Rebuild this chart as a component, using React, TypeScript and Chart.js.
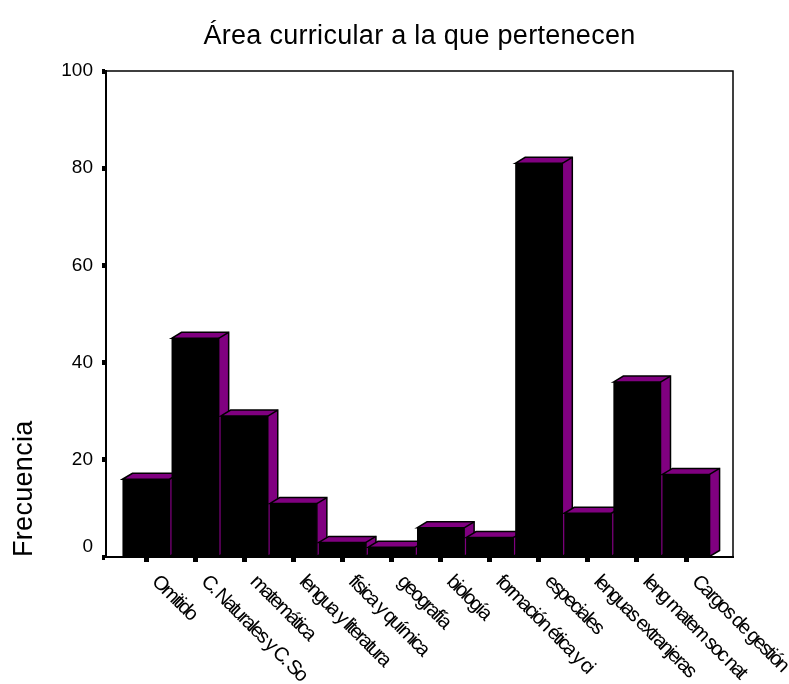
import React, { useEffect, useRef } from "react";
import { Chart, registerables } from "chart.js";

Chart.register(...registerables);

const chartTitle = "Área curricular a la que pertenecen";
const yAxisTitle = "Frecuencia";
const categories = [
  "Omitido",
  "C. Naturales y C. So",
  "matemática",
  "lengua y literatura",
  "física y química",
  "geografía",
  "biología",
  "formación ética y ci",
  "especiales",
  "lenguas extranjeras",
  "leng matem soc nat",
  "Cargos de gestión",
];
const frequencies = [16, 45, 29, 11, 3, 2, 6, 4, 81, 9, 36, 17];

const FONT = "'Liberation Sans', Arial, sans-serif";
const PURPLE = "#800080";
const DEPTH_X = 10;
const DEPTH_Y = 6;

const spaced = (chart: any, scale: any, spacing: string) => {
  const orig = scale.drawLabels.bind(scale);
  scale.drawLabels = (area: any) => {
    const ctx = chart.ctx;
    ctx.save();
    ctx.letterSpacing = spacing;
    orig(area);
    ctx.restore();
  };
};

const depthPlugin = {
  id: "depth",
  beforeLayout(chart: any) {
    const { x, y } = chart.scales;
    if (x && !x.__patched) {
      x.__patched = true;
      x._getXAxisLabelAlignment = () => "left";
      spaced(chart, x, "-2.1px");
      spaced(chart, y, "0px");
    }
  },
  beforeDraw(chart: any) {
    chart.ctx.letterSpacing = "0.3px";
  },
  afterDraw(chart: any) {
    chart.ctx.letterSpacing = "0px";
  },
  beforeDatasetsDraw(chart: any) {
    const { ctx, chartArea } = chart;
    ctx.save();
    ctx.strokeStyle = "#000";
    ctx.lineWidth = 1.5;
    ctx.strokeRect(chartArea.left, chartArea.top, chartArea.width, chartArea.height);
    ctx.fillStyle = PURPLE;
    ctx.lineJoin = "miter";
    chart.getDatasetMeta(0).data.forEach((bar: any) => {
      const half = bar.width / 2;
      const l = bar.x - half;
      const r = bar.x + half;
      const t = bar.y;
      const b = bar.base;
      ctx.beginPath();
      ctx.moveTo(l, t);
      ctx.lineTo(l + DEPTH_X, t - DEPTH_Y);
      ctx.lineTo(r + DEPTH_X, t - DEPTH_Y);
      ctx.lineTo(r + DEPTH_X, b - DEPTH_Y);
      ctx.lineTo(r, b);
      ctx.lineTo(r, t);
      ctx.closePath();
      ctx.fill();
      ctx.stroke();
      ctx.beginPath();
      ctx.moveTo(r, t);
      ctx.lineTo(r + DEPTH_X, t - DEPTH_Y);
      ctx.stroke();
    });
    ctx.restore();
  },
};

export default function App() {
  const ref = useRef<HTMLCanvasElement>(null);
  useEffect(() => {
    document.body.style.margin = "0";
    const chart = new Chart(ref.current as HTMLCanvasElement, {
      type: "bar",
      data: {
        datasets: [
          {
            data: frequencies.map((y, x) => ({ x, y })),
            backgroundColor: "#000",
            barPercentage: 0.96,
            categoryPercentage: 1,
          },
        ],
      },
      plugins: [depthPlugin],
      options: {
        animation: false,
        responsive: false,
        layout: { padding: { left: 0, right: 56, top: 20, bottom: 0 } },
        plugins: {
          legend: { display: false },
          tooltip: { enabled: false },
          title: {
            display: true,
            text: chartTitle,
            color: "#000",
            fullSize: false,
            font: { family: FONT, size: 27, weight: "normal" },
            padding: { top: 0, bottom: 18.6 },
          },
        },
        scales: {
          x: {
            type: "linear",
            offset: false,
            min: -0.815,
            max: 11.957,
            afterBuildTicks: (s: any) => {
              s.ticks = categories.map((_, i) => ({ value: i }));
            },
            afterFit: (s: any) => {
              s.height = 127;
            },
            grid: {
              display: true,
              offset: false,
              drawOnChartArea: false,
              drawTicks: true,
              tickLength: 5,
              tickWidth: 5,
              tickColor: "#000",
            },
            border: { display: true, color: "#000", width: 2 },
            ticks: {
              autoSkip: false,
              minRotation: -45,
              maxRotation: -45,
              labelOffset: 9,
              padding: 8,
              color: "#000",
              font: { family: FONT, size: 20 },
              callback: (v: any) => categories[v],
            },
          },
          y: {
            min: 0,
            max: 100,
            afterFit: (s: any) => {
              s.width = 106;
            },
            grid: {
              display: true,
              drawOnChartArea: false,
              drawTicks: true,
              tickLength: 4,
              tickWidth: 5,
              tickColor: "#000",
            },
            border: { display: true, color: "#000", width: 2 },
            title: {
              display: true,
              text: yAxisTitle,
              align: "start",
              color: "#000",
              font: { family: FONT, size: 27, weight: "normal" },
              padding: { top: 8, bottom: 0 },
            },
            ticks: {
              stepSize: 20,
              padding: 9,
              color: "#000",
              font: (c: any) => ({
                family: FONT,
                size: 19,
                lineHeight: c.tick && c.tick.value === 0 ? 20 / 19 : 1.2,
              }),
              callback: (v: any) => (v === 0 ? ["0", ""] : String(v)),
            },
          },
        },
      },
    } as any);
    return () => chart.destroy();
  }, []);
  return <canvas ref={ref} width={789} height={684} style={{ display: "block" }} />;
}
